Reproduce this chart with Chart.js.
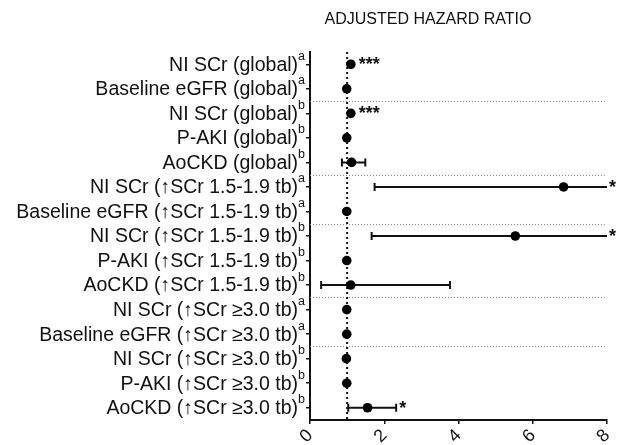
<!DOCTYPE html>
<html>
<head>
<meta charset="utf-8">
<script src="https://cdn.jsdelivr.net/npm/chart.js@4"></script>
<style>
  html, body { margin: 0; padding: 0; background: #fff; }
  #wrap { width: 617px; height: 445px; }
</style>
</head>
<body>
<div id="wrap"><canvas id="hr-chart" width="617" height="445"></canvas></div>
<script>
// datos
const rowLabels = [
  'NI SCr (global)', 'Baseline eGFR (global)', 'NI SCr (global)', 'P-AKI (global)', 'AoCKD (global)',
  'NI SCr (↑SCr 1.5-1.9 tb)', 'Baseline eGFR (↑SCr 1.5-1.9 tb)', 'NI SCr (↑SCr 1.5-1.9 tb)',
  'P-AKI (↑SCr 1.5-1.9 tb)', 'AoCKD (↑SCr 1.5-1.9 tb)',
  'NI SCr (↑SCr ≥3.0 tb)', 'Baseline eGFR (↑SCr ≥3.0 tb)', 'NI SCr (↑SCr ≥3.0 tb)',
  'P-AKI (↑SCr ≥3.0 tb)', 'AoCKD (↑SCr ≥3.0 tb)'
];
const rowSup = ['a', 'a', 'b', 'b', 'b', 'a', 'a', 'b', 'b', 'b', 'a', 'a', 'b', 'b', 'b'];
const hazardRatio = [1.10, 0.99, 1.10, 0.99, 1.12, 6.83, 0.99, 5.53, 0.99, 1.10, 0.99, 0.99, 0.98, 0.99, 1.55];
const ciLow  = [1.06, 0.97, 1.06, 0.97, 0.86, 1.74, 0.97, 1.66, 0.97, 0.30, 0.97, 0.97, 0.96, 0.97, 1.03];
const ciHigh = [1.14, 1.01, 1.14, 1.02, 1.49, 9.50, 1.01, 9.50, 1.02, 3.77, 1.01, 1.01, 1.00, 1.02, 2.32];
const signif = ['***', '', '***', '', '', '*', '', '*', '', '', '', '', '', '', '*'];
const groupStarts = [2, 5, 7, 10, 12];   // una línea punteada antes de estas filas
const xTicks = [0, 2, 4, 6, 8];
const refLine = 1;

const FONT = '"Liberation Sans", Arial, Helvetica, sans-serif';

// plugin para barras de error, líneas punteadas, etiquetas y asteriscos
const forestPlugin = {
  id: 'forest',
  beforeDatasetsDraw(chart) {
    const ctx = chart.ctx;
    const xs = chart.scales.x, ys = chart.scales.y;
    const area = chart.chartArea;
    ctx.save();
    ctx.beginPath();
    ctx.rect(area.left, area.top - 5, area.right - area.left, area.bottom - area.top + 10);
    ctx.clip();

    // separadores de grupo
    ctx.strokeStyle = '#8a8a8a';
    ctx.lineWidth = 1;
    ctx.setLineDash([1, 2]);
    groupStarts.forEach(function(i) {
      const y = Math.round((ys.getPixelForValue(i - 1) + ys.getPixelForValue(i)) / 2) + 0.5;
      ctx.beginPath();
      ctx.moveTo(area.left, y);
      ctx.lineTo(area.right, y);
      ctx.stroke();
    });

    // línea de referencia en 1
    const rx = xs.getPixelForValue(refLine);
    ctx.strokeStyle = '#111';
    ctx.lineWidth = 2;
    ctx.setLineDash([2, 3]);
    ctx.beginPath();
    ctx.moveTo(rx, area.top);
    ctx.lineTo(rx, area.bottom);
    ctx.stroke();
    ctx.setLineDash([]);

    // intervalos de confianza
    ctx.strokeStyle = '#111';
    ctx.lineWidth = 2;
    hazardRatio.forEach(function(v, i) {
      const y = ys.getPixelForValue(i);
      const x1 = xs.getPixelForValue(ciLow[i]);
      const x2 = xs.getPixelForValue(ciHigh[i]);
      ctx.beginPath();
      ctx.moveTo(x1, y);
      ctx.lineTo(x2, y);
      ctx.moveTo(x1, y - 4);
      ctx.lineTo(x1, y + 4);
      ctx.moveTo(x2, y - 4);
      ctx.lineTo(x2, y + 4);
      ctx.stroke();
    });
    ctx.restore();
  },
  afterDraw(chart) {
    const ctx = chart.ctx;
    const xs = chart.scales.x, ys = chart.scales.y;
    const area = chart.chartArea;
    ctx.save();

    // título
    ctx.fillStyle = '#111';
    ctx.font = '16px ' + FONT;
    ctx.textAlign = 'center';
    ctx.textBaseline = 'middle';
    ctx.fillText('ADJUSTED HAZARD RATIO', 428, 20);

    // etiquetas de filas con superíndice
    rowLabels.forEach(function(label, i) {
      const y = ys.getPixelForValue(i);
      const right = area.left - 5;
      ctx.font = '12.5px ' + FONT;
      const supW = ctx.measureText(rowSup[i]).width;
      ctx.textAlign = 'right';
      ctx.textBaseline = 'middle';
      ctx.fillText(rowSup[i], right, y - 8);
      ctx.font = '19.5px ' + FONT;
      ctx.fillText(label, right - supW, y + 1);
    });

    // asteriscos de significación
    ctx.font = 'bold 18px ' + FONT;
    ctx.textAlign = 'left';
    ctx.textBaseline = 'middle';
    signif.forEach(function(s, i) {
      if (!s) return;
      const y = ys.getPixelForValue(i) + 1;
      let x;
      if (ciHigh[i] > xs.max) x = area.right + 2;
      else x = Math.max(xs.getPixelForValue(ciHigh[i]), xs.getPixelForValue(hazardRatio[i]) + 5) + 3;
      ctx.fillText(s, x, y);
    });
    ctx.restore();
  }
};

const ctx = document.getElementById('hr-chart').getContext('2d');
const chart = new Chart(ctx, {
  type: 'scatter',
  data: {
    labels: rowLabels.map(function(l, i) { return String(i); }),
    datasets: [{
      label: 'Hazard ratio',
      data: hazardRatio.map(function(v, i) { return { x: v, y: String(i) }; }),
      backgroundColor: '#000',
      borderColor: '#000',
      pointRadius: 4.8,
      pointHoverRadius: 4.8,
      borderWidth: 0
    }]
  },
  options: {
    responsive: false,
    animation: false,
    events: [],
    layout: { padding: { top: 52, right: 10, left: 0, bottom: 0 } },
    plugins: {
      legend: { display: false },
      tooltip: { enabled: false }
    },
    scales: {
      x: {
        type: 'linear',
        min: 0,
        max: 8,
        afterBuildTicks: function(scale) {
          scale.ticks = xTicks.map(function(v) { return { value: v }; });
        },
        afterFit: function(scale) {
          scale.height = 25;
          scale.paddingLeft = 0;
          scale.paddingRight = 0;
        },
        border: { display: true, color: '#111', width: 2 },
        grid: { drawOnChartArea: false, drawTicks: true, tickLength: 4, color: '#111', lineWidth: 1.5 },
        ticks: {
          minRotation: 45,
          maxRotation: 45,
          padding: 1,
          color: '#111',
          font: { family: FONT, size: 18 }
        }
      },
      y: {
        type: 'category',
        offset: true,
        afterFit: function(scale) { scale.width = 310; },
        border: { display: true, color: '#111', width: 2 },
        grid: { drawOnChartArea: false, drawTicks: true, tickLength: 4, color: '#111', lineWidth: 1.5, offset: false },
        ticks: { color: 'rgba(0,0,0,0)', font: { family: FONT, size: 16 } }
      }
    }
  },
  plugins: [forestPlugin]
});
</script>
</body>
</html>
